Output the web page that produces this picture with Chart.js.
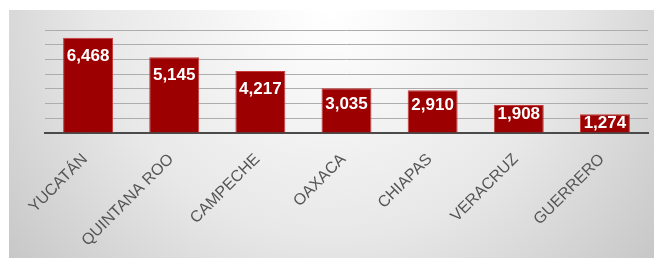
<!DOCTYPE html>
<html>
<head>
<meta charset="utf-8">
<script src="https://cdn.jsdelivr.net/npm/chart.js@4/dist/chart.umd.min.js"></script>
<style>
  html, body { margin: 0; padding: 0; background: #fff; }
  #wrap { width: 654px; height: 258px; }
</style>
</head>
<body>
<div id="wrap"><canvas id="chart" width="654" height="258"></canvas></div>
<script>
const estados = ["YUCATÁN", "QUINTANA ROO", "CAMPECHE", "OAXACA", "CHIAPAS", "VERACRUZ", "GUERRERO"];
const valores = [6468, 5145, 4217, 3035, 2910, 1908, 1274];

// fondo gris con degradado
const fondo = {
    id: "fondo",
    beforeDraw(chart) {
        const ctx = chart.ctx;
        ctx.save();
        ctx.fillStyle = "#ffffff";
        ctx.fillRect(0, 0, chart.width, chart.height);
        const g = ctx.createRadialGradient(330, 0, 10, 330, 0, 420);
        g.addColorStop(0, "#ffffff");
        g.addColorStop(0.55, "#e8e8e8");
        g.addColorStop(1, "#c6c6c6");
        ctx.fillStyle = g;
        ctx.fillRect(9, 10, chart.width - 9, chart.height - 10);
        ctx.restore();
    }
};

// etiquetas blancas dentro de las barras
const etiquetas = {
    id: "etiquetas",
    afterDatasetsDraw(chart) {
        const ctx = chart.ctx;
        const meta = chart.getDatasetMeta(0);
        ctx.save();
        ctx.fillStyle = "#ffffff";
        ctx.font = "bold 17px 'Liberation Sans', Arial, sans-serif";
        ctx.textAlign = "center";
        ctx.textBaseline = "top";
        meta.data.forEach((bar, i) => {
            const h = bar.base - bar.y;
            const off = h > 60 ? 10 : (h > 35 ? 7 : 1);
            ctx.fillText(valores[i].toLocaleString("en-US"), bar.x, bar.y + off);
        });
        ctx.restore();
    }
};

new Chart(document.getElementById("chart"), {
    type: "bar",
    data: {
        labels: estados,
        datasets: [{
            data: valores,
            backgroundColor: "#9c0000",
            borderColor: "#c83a3a",
            borderWidth: 1,
            categoryPercentage: 1,
            barPercentage: 0.58
        }]
    },
    options: {
        responsive: false,
        animation: false,
        layout: { padding: { left: 45, right: 6, top: 30, bottom: 0 } },
        plugins: { legend: { display: false }, tooltip: { enabled: false } },
        scales: {
            x: {
                afterFit(s) { s.height = 125; },
                grid: { display: false },
                border: { display: true, color: "#4a4a4a", width: 2 },
                ticks: {
                    minRotation: 45,
                    maxRotation: 45,
                    padding: 9,
                    labelOffset: -3,
                    color: "#555555",
                    font: { family: "'Liberation Sans', Arial, sans-serif", size: 16 }
                }
            },
            y: {
                min: 0,
                max: 7000,
                afterFit(s) { s.width = 0; },
                ticks: { display: false, stepSize: 1000 },
                border: { display: false },
                grid: { color: "#adadad", lineWidth: 1, drawTicks: false }
            }
        }
    },
    plugins: [fondo, etiquetas]
});
</script>
</body>
</html>
